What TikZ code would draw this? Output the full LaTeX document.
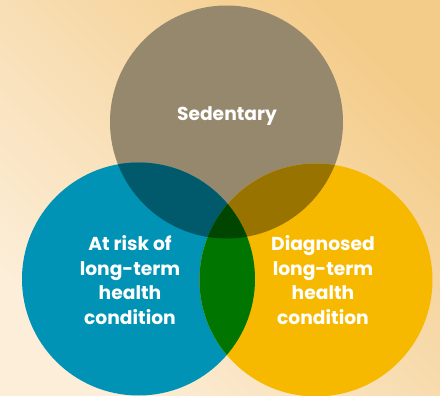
\documentclass[tikz,border=0pt]{standalone}
\usepackage{fontspec}
\setmainfont{Poppins}
\definecolor{bgA}{RGB}{244,204,138}
\definecolor{bgB}{RGB}{252,238,216}
\definecolor{topc}{RGB}{149,136,108}
\definecolor{tealc}{RGB}{0,147,181}
\definecolor{yelc}{RGB}{247,185,0}
\definecolor{tealtop}{RGB}{0,90,107}
\definecolor{yeltop}{RGB}{153,115,0}
\definecolor{greenc}{RGB}{0,118,0}
\definecolor{darkc}{RGB}{0,70,0}
\tikzset{
  lbl/.style={text=white, font=\fontsize{18.7}{24.5}\selectfont\bfseries, align=center},
}
\begin{document}
\begin{tikzpicture}[x=1pt,y=-1pt]
\useasboundingbox (0,0) rectangle (440,396);
\shade[top color=bgA, bottom color=bgB, shading angle=-45] (0,0) rectangle (440,396);
\coordinate (T) at (226.5,122);
\coordinate (L) at (138.5,279);
\coordinate (R) at (316,280);
\def\rr{116.5pt}
\fill[topc] (T) circle (\rr);
\fill[tealc] (L) circle (\rr);
\fill[yelc] (R) circle (\rr);
\begin{scope}
  \clip (T) circle (\rr);
  \fill[tealtop] (L) circle (\rr);
  \fill[yeltop] (R) circle (\rr);
\end{scope}
\begin{scope}
  \clip (L) circle (\rr);
  \fill[greenc] (R) circle (\rr);
  \clip (R) circle (\rr);
  \fill[darkc] (T) circle (\rr);
\end{scope}
\node[lbl] (ts) at (227,116) {Sedentary};
\node[lbl] (tl) at (130,280) {At risk of\\long-term\\health\\condition};
\node[lbl] (tr) at (323,280) {Diagnosed\\long-term\\health\\condition};
\end{tikzpicture}
\end{document}
